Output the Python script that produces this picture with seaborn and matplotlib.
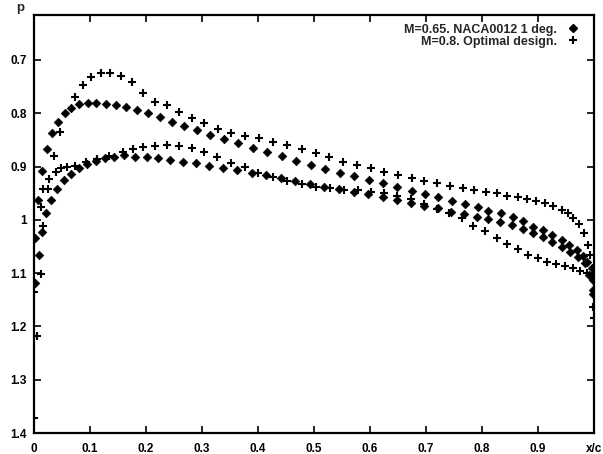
import pandas as pd
import matplotlib
matplotlib.use('Agg')
import matplotlib.pyplot as plt
from matplotlib.lines import Line2D
import seaborn as sns

# NACA0012, M=0.65, 1 deg. (diamonds)
naca_upper_x = [0.002, 0.002, 0.007, 0.014, 0.023, 0.032, 0.043, 0.055, 0.066, 0.080,
                0.096, 0.111, 0.129, 0.146, 0.164, 0.184, 0.204, 0.225, 0.246, 0.268,
                0.291, 0.314, 0.339, 0.364, 0.391, 0.416, 0.443, 0.468, 0.495, 0.520,
                0.546, 0.571, 0.598, 0.623, 0.648, 0.675, 0.698, 0.721, 0.746, 0.770,
                0.793, 0.811, 0.834, 0.855, 0.873, 0.891, 0.909, 0.925, 0.943, 0.955,
                0.970, 0.980, 0.988, 0.996, 0.998, 0.999]
naca_upper_p = [1.118, 1.034, 0.963, 0.908, 0.867, 0.837, 0.816, 0.799, 0.790, 0.783,
                0.781, 0.781, 0.783, 0.784, 0.788, 0.794, 0.799, 0.807, 0.816, 0.824,
                0.831, 0.841, 0.848, 0.856, 0.865, 0.873, 0.880, 0.889, 0.897, 0.904,
                0.912, 0.918, 0.925, 0.931, 0.938, 0.946, 0.951, 0.957, 0.964, 0.970,
                0.976, 0.983, 0.987, 0.994, 1.002, 1.013, 1.019, 1.028, 1.038, 1.047,
                1.056, 1.068, 1.079, 1.090, 1.113, 1.140]
naca_lower_x = [0.009, 0.014, 0.021, 0.030, 0.041, 0.054, 0.066, 0.080, 0.095, 0.111,
                0.127, 0.143, 0.161, 0.180, 0.202, 0.221, 0.243, 0.266, 0.289, 0.313,
                0.338, 0.363, 0.389, 0.414, 0.441, 0.466, 0.493, 0.518, 0.545, 0.571,
                0.596, 0.623, 0.648, 0.673, 0.696, 0.721, 0.745, 0.768, 0.791, 0.811,
                0.832, 0.854, 0.873, 0.891, 0.909, 0.925, 0.943, 0.957, 0.971, 0.984,
                0.991, 0.998]
naca_lower_p = [1.066, 1.023, 0.987, 0.963, 0.942, 0.925, 0.914, 0.903, 0.895, 0.889,
                0.884, 0.882, 0.878, 0.882, 0.882, 0.884, 0.888, 0.891, 0.893, 0.899,
                0.903, 0.906, 0.912, 0.916, 0.921, 0.927, 0.933, 0.938, 0.942, 0.948,
                0.951, 0.957, 0.963, 0.968, 0.974, 0.978, 0.985, 0.989, 0.994, 0.998,
                1.004, 1.009, 1.017, 1.024, 1.032, 1.041, 1.051, 1.060, 1.069, 1.081,
                1.103, 1.131]

# Optimal design, M=0.8 (plus signs)
opt_upper_x = [0.000, 0.012, 0.027, 0.036, 0.046, 0.073, 0.088, 0.102, 0.120, 0.136,
               0.155, 0.175, 0.195, 0.216, 0.238, 0.259, 0.282, 0.304, 0.329, 0.352,
               0.377, 0.402, 0.427, 0.452, 0.479, 0.504, 0.527, 0.552, 0.577, 0.602,
               0.625, 0.650, 0.675, 0.696, 0.720, 0.743, 0.766, 0.786, 0.807, 0.827,
               0.845, 0.864, 0.880, 0.896, 0.913, 0.927, 0.943, 0.954, 0.963, 0.973,
               0.982, 0.989, 0.993]
opt_upper_p = [1.135, 0.976, 0.923, 0.880, 0.835, 0.769, 0.747, 0.732, 0.724, 0.724,
               0.730, 0.741, 0.762, 0.779, 0.784, 0.798, 0.809, 0.818, 0.829, 0.837,
               0.843, 0.846, 0.854, 0.859, 0.867, 0.874, 0.882, 0.891, 0.897, 0.903,
               0.910, 0.916, 0.921, 0.927, 0.931, 0.936, 0.940, 0.944, 0.948, 0.949,
               0.955, 0.957, 0.961, 0.964, 0.968, 0.974, 0.981, 0.987, 0.996, 1.008,
               1.024, 1.047, 1.066]
opt_lower_x = [0.000, 0.005, 0.012, 0.016, 0.016, 0.025, 0.039, 0.048, 0.059, 0.073,
               0.093, 0.113, 0.134, 0.159, 0.177, 0.195, 0.216, 0.238, 0.259, 0.282,
               0.304, 0.327, 0.352, 0.377, 0.400, 0.427, 0.452, 0.479, 0.504, 0.529,
               0.554, 0.579, 0.602, 0.625, 0.648, 0.673, 0.696, 0.720, 0.741, 0.764,
               0.784, 0.805, 0.827, 0.845, 0.864, 0.882, 0.900, 0.916, 0.932, 0.948,
               0.963, 0.975, 0.988, 0.996, 0.998, 1.000]
opt_lower_p = [1.371, 1.218, 1.101, 1.011, 0.942, 0.942, 0.910, 0.903, 0.901, 0.899,
               0.891, 0.886, 0.880, 0.873, 0.867, 0.863, 0.861, 0.859, 0.861, 0.865,
               0.873, 0.882, 0.893, 0.901, 0.912, 0.919, 0.927, 0.933, 0.938, 0.940,
               0.944, 0.944, 0.948, 0.949, 0.955, 0.961, 0.970, 0.979, 0.987, 0.996,
               1.011, 1.021, 1.034, 1.045, 1.054, 1.066, 1.071, 1.079, 1.083, 1.086,
               1.090, 1.096, 1.099, 1.107, 1.163, 1.184]

label_naca = 'M=0.65. NACA0012 1 deg.'
label_opt = 'M=0.8. Optimal design.'
x_ticks = [0, 0.1, 0.2, 0.3, 0.4, 0.5, 0.6, 0.7, 0.8, 0.9, 1.0]
x_tick_labels = ['0', '0.1', '0.2', '0.3', '0.4', '0.5', '0.6', '0.7', '0.8', '0.9', 'x/c']
y_ticks = [0.7, 0.8, 0.9, 1.0, 1.1, 1.2, 1.3, 1.4]
y_tick_labels = ['0.7', '0.8', '0.9', '1', '1.1', '1.2', '1.3', '1.4']

naca = pd.DataFrame({'x': naca_upper_x + naca_lower_x, 'p': naca_upper_p + naca_lower_p})
opt = pd.DataFrame({'x': opt_upper_x + opt_lower_x, 'p': opt_upper_p + opt_lower_p})

sns.set_style('ticks')
plt.rcParams['font.family'] = ['Liberation Sans', 'DejaVu Sans']
plt.rcParams['font.weight'] = 'bold'

fig = plt.figure(figsize=(6.03, 4.54), dpi=100)
ax = fig.add_axes([34 / 603, 1 - 433 / 454, 560 / 603, 418 / 454])

sns.scatterplot(data=naca, x='x', y='p', marker='D', s=19, color='black',
                edgecolor='black', linewidth=0.5, ax=ax)
sns.scatterplot(data=opt, x='x', y='p', marker='+', s=38, color='black',
                linewidth=1.5, ax=ax)

ax.set_xlim(0, 1)
ax.set_ylim(1.4, 0.6156)
ax.set_xticks(x_ticks)
ax.set_xticklabels(x_tick_labels)
ax.set_yticks(y_ticks)
ax.set_yticklabels(y_tick_labels)
ax.set_xlabel('')
ax.set_ylabel('')
ax.tick_params(direction='in', top=True, right=True, length=5, width=1.2,
               labelsize=8.5, colors='black')
ax.tick_params(axis='x', pad=7)
ax.tick_params(axis='y', pad=5)
for sp in ax.spines.values():
    sp.set_linewidth(1.6)
    sp.set_color('black')

fig.text(20 / 603, 1 - 8 / 454, 'p', ha='center', va='center', fontsize=9.5, fontweight='bold')

handles = [Line2D([], [], linestyle='none', marker='D', markersize=4.2, color='black'),
           Line2D([], [], linestyle='none', marker='+', markersize=6, markeredgewidth=1.5,
                  color='black')]
ax.legend(handles, [label_naca, label_opt], loc='upper right', markerfirst=False,
          frameon=False, fontsize=9, handlelength=1.0, handletextpad=0.8,
          labelspacing=0.0, borderaxespad=0.3, bbox_to_anchor=(0.99, 1.0))

fig.savefig('out.png', dpi=100)
